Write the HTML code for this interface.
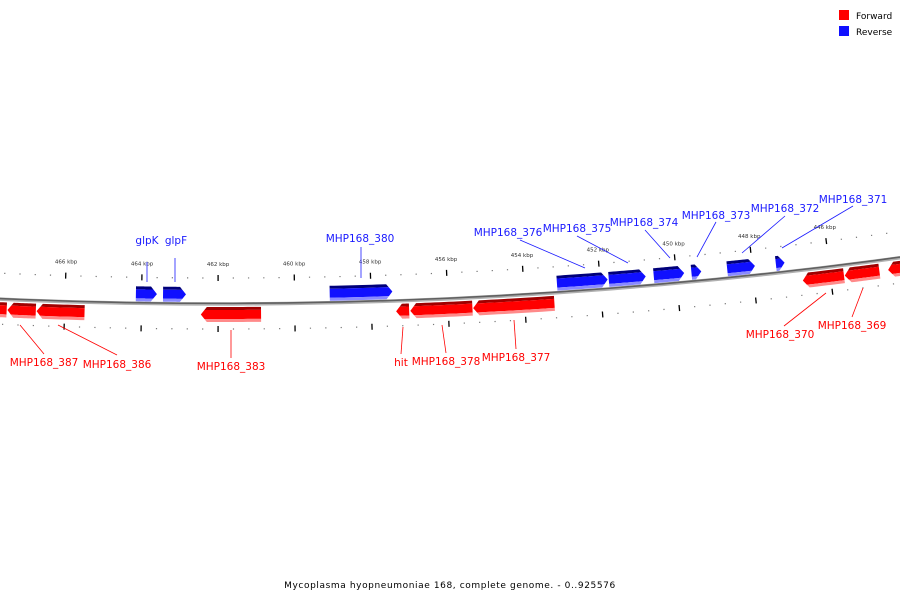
<!DOCTYPE html>
<html><head><meta charset="utf-8"><style>
body{margin:0;background:#fff;}
svg{display:block;font-family:"DejaVu Sans","Liberation Sans",sans-serif;}
</style></head><body>
<svg id="map" width="900" height="600" viewBox="0 0 900 600" xmlns="http://www.w3.org/2000/svg">
<g id="legend">
 <rect x="839" y="10" width="10" height="10" fill="#ff0000"/>
 <text x="856" y="19" font-size="9" fill="#000">Forward</text>
 <rect x="839" y="26" width="10" height="10" fill="#1010ff"/>
 <text x="856" y="35" font-size="9" fill="#000">Reverse</text>
</g>
<text x="450" y="588" font-size="9" text-anchor="middle" letter-spacing="0.6" fill="#000">Mycoplasma hyopneumoniae 168, complete genome. - 0..925576</text>
</svg>
<script>
// gene data (kbp)
const geneNames = ["","MHP168_387","MHP168_386","MHP168_383","hit","MHP168_378","MHP168_377","MHP168_370","MHP168_369","","glpK","glpF","MHP168_380","MHP168_376","MHP168_375","MHP168_374","MHP168_373","MHP168_372","MHP168_371"];
const geneStart = [468.3,467.49,466.73,462.45,457.36,456.99,455.35,446.73,445.63,444.49,464.15,463.44,459.08,453.13,451.77,450.59,449.60,448.66,447.38];
const geneEnd   = [467.51,466.75,465.48,460.88,457.02,455.37,453.23,445.65,444.72,443.5,463.60,462.84,457.44,451.80,450.80,449.79,449.34,447.93,447.15];
const geneStrand = ["f","f","f","f","f","f","f","f","f","f","r","r","r","r","r","r","r","r","r"];
const tickLabels = [446,448,450,452,454,456,458,460,462,464,466];
// label layout: text x,y and line endpoints
const labelLayout = [null,[44,366,20,325,44,354],[117,368,58,325,117,355],[231,370,231,330,231,358],[401,366,403,327,401,354],[446,365,442,325,446,353],[516,361,514,320,516,349],[780,338,826,293,784,326],[852,329,863,288,852,317],null,
 [147,244,147,262,147,282],[176,244,175,258,175,282],[360,242,361,247,361,278],[508,236,520,240,585,268],[577,232,577,236,628,263],[644,226,645,230,670,258],[716,219,716,222,697,257],[785,212,785,216,742,253],[853,203,853,206,782,248]];

const NS="http://www.w3.org/2000/svg";
const svg=document.getElementById('map');
const R=5026, cx=220, cy=304-R, pmid=461.95, k=38.3/R;
function pt(p,r){const t=(pmid-p)*k;return [cx+r*Math.sin(t), cy+r*Math.cos(t)];}
function arcPath(p1,p2,r){let d="";const n=20;for(let i=0;i<=n;i++){const q=pt(p1+(p2-p1)*i/n,r);d+=(i?"L":"M")+q[0].toFixed(2)+","+q[1].toFixed(2);}return d;}
function mk(tag,attrs){const e=document.createElementNS(NS,tag);for(const a in attrs)e.setAttribute(a,attrs[a]);return e;}

// backbone
const bbG=mk('g',{});


svg.appendChild(bbG);
bbG.appendChild(mk('path',{d:arcPath(470,442,R),fill:'none',stroke:'#b0b0b0','stroke-width':3.5}));
bbG.appendChild(mk('path',{d:arcPath(470,442,R-0.6),fill:'none',stroke:'#606060','stroke-width':1.6}));

// ticks
const tickG=mk('g',{});


svg.appendChild(tickG);
for(let i=0;;i++){const p=443.2+i*0.4;if(p>470)break;
 const major=Math.abs(p/2-Math.round(p/2))<0.01;
 [[R-26,-1],[R+25,1]].forEach(([rr,s])=>{
  const a=pt(p,rr-(major?3:0.6)),b=pt(p,rr+(major?3:0.6));
  const l=mk('line',{x1:a[0],y1:a[1],x2:b[0],y2:b[1],stroke:major?'#000':'#777','stroke-width':major?1.3:1.2});
  
  
  tickG.appendChild(l);
 });
}
tickLabels.forEach(v=>{const q=pt(v,R-38);
 const t=mk('text',{x:q[0],y:q[1],'font-size':5.5,'text-anchor':'middle',fill:'#333'});
 t.textContent=v+" kbp";
 
 
 tickG.appendChild(t);});

// genes
geneStart.forEach((s,i)=>{
 const e=geneEnd[i], f=geneStrand[i]==="f";
 const r0=f?R+3:R-17, r1=r0+15;
 const g=mk('g',{});
 
 
 svg.appendChild(g);
 // arrow: f points left (to higher kbp = start), r points right (to lower kbp = end)
 const head=6/38.3;
 const tipP=f?s:e, baseP=f?s-head:e+head, tailP=f?e:s;
 const cols=f?['#a00000','#ff0000','#ff8a8a']:['#00007a','#1010ff','#8a8aff'];
 const bands=[[r0,r0+3,cols[0]],[r0+3,r1-3,cols[1]],[r1-3,r1,cols[2]]];
 bands.forEach(([a,b,c])=>{
  const pts=[];const n=12;
  for(let j=0;j<=n;j++)pts.push(pt(tailP+(baseP-tailP)*j/n,a));
  // head edge: interpolate toward tip by distance from mid
  const rm=(r0+r1)/2, ha=Math.abs(a-rm)/7.5, hb=Math.abs(b-rm)/7.5;
  pts.push(pt(tipP+(baseP-tipP)*ha,a));
  if((a-rm)*(b-rm)<0)pts.push(pt(tipP,rm));
  pts.push(pt(tipP+(baseP-tipP)*hb,b));
  for(let j=n;j>=0;j--)pts.push(pt(tailP+(baseP-tailP)*j/n,b));
  g.appendChild(mk('polygon',{points:pts.map(q=>q[0].toFixed(2)+","+q[1].toFixed(2)).join(" "),fill:c}));
 });
 const L=labelLayout[i];
 if(L){
  const col=f?'#ff0000':'#1a1aff';
  const ln=mk('line',{x1:L[2],y1:L[3],x2:L[4],y2:L[5],stroke:col,'stroke-width':0.8});
  
  
  svg.appendChild(ln);
  const t=mk('text',{x:L[0],y:L[1],'font-size':10.5,'text-anchor':'middle',fill:col});
  t.textContent=geneNames[i];
  
  
  svg.appendChild(t);
 }
});
</script>
</body></html>
